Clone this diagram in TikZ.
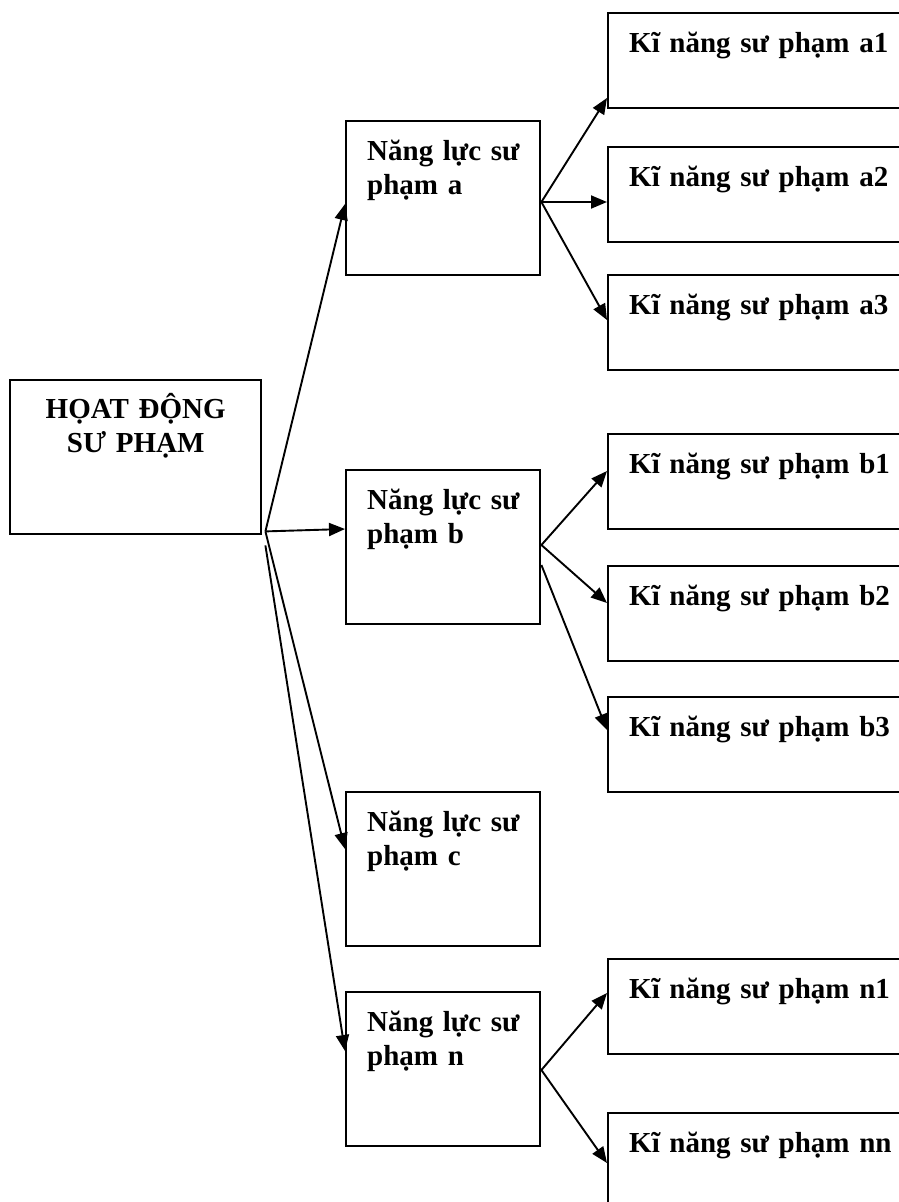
\documentclass[tikz,border=0pt]{standalone}
\usepackage{fontspec}
\setmainfont{Liberation Serif}[WordSpace=0.82]
\usetikzlibrary{arrows.meta,calc}
\begin{document}
\begin{tikzpicture}[x=1pt,y=-1pt,
  boxbase/.style={draw, line width=2.4pt, anchor=north west, inner sep=0pt,
    text height=39pt, font=\bfseries\fontsize{29}{34}\selectfont},
  leftbox/.style={boxbase, align=left, execute at begin node={\leftskip=21pt\relax}},
  rootbox/.style={boxbase, inner xsep=10pt, align=center, text width=231pt,
    text height=38pt, text depth=116pt},
  midbox/.style={leftbox, text width=194pt, text depth=115pt},
  skillbox/.style={leftbox, text width=320pt, text depth=56pt},
  link/.style={line width=1.9pt, -{Triangle[length=16pt,width=13pt]}}
]
\useasboundingbox (0,0) rectangle (899,1202);
\clip (0,0) rectangle (899,1202);

% root activity
\node[rootbox] (root) at (9,379) {HỌAT ĐỘNG\\SƯ PHẠM};

% competences
\node[midbox] (na) at (345,120) {Năng lực sư\\phạm a};
\node[midbox] (nb) at (345,469) {Năng lực sư\\phạm b};
\node[midbox] (nc) at (345,791) {Năng lực sư\\phạm c};
\node[midbox] (nn) at (345,991) {Năng lực sư\\phạm n};

% skills
\node[skillbox] (a1) at (607,12)   {Kĩ năng sư phạm a1};
\node[skillbox] (a2) at (607,146)  {Kĩ năng sư phạm a2};
\node[skillbox] (a3) at (607,274)  {Kĩ năng sư phạm a3};
\node[skillbox] (b1) at (607,433)  {Kĩ năng sư phạm b1};
\node[skillbox] (b2) at (607,565)  {Kĩ năng sư phạm b2};
\node[skillbox] (b3) at (607,696)  {Kĩ năng sư phạm b3};
\node[skillbox] (n1) at (607,958)  {Kĩ năng sư phạm n1};
\node[skillbox] (n2) at (607,1112) {Kĩ năng sư phạm nn};

% fan-out points
\coordinate (hub)  at ($(root.south east)+(3,-4)$);
\coordinate (hub2) at ($(root.south east)+(3,10)$);
\coordinate (aout) at ($(na.north east)+(0,82)$);
\coordinate (bout) at ($(nb.north east)+(0,76)$);
\coordinate (bout2) at ($(nb.north east)+(0,96)$);
\coordinate (nout) at ($(nn.north east)+(0,79)$);

% activity -> competences
\draw[link] (hub)  -- ($(na.north west)+(0,84)$);
\draw[link] (hub)  -- ($(nb.north west)+(0,60)$);
\draw[link] (hub)  -- ($(nc.north west)+(0,58)$);
\draw[link] (hub2) -- ($(nn.north west)+(0,60)$);

% competences -> skills
\draw[link] (aout) -- ($(a1.north west)+(0,86)$);
\draw[link] (aout) -- ($(a2.north west)+(0,56)$);
\draw[link] (aout) -- ($(a3.north west)+(0,46)$);
\draw[link] (bout) -- ($(b1.north west)+(0,38)$);
\draw[link] (bout) -- ($(b2.north west)+(0,38)$);
\draw[link] (bout2) -- ($(b3.north west)+(0,34)$);
\draw[link] (nout) -- ($(n1.north west)+(0,35)$);
\draw[link] (nout) -- ($(n2.north west)+(0,51)$);
\end{tikzpicture}
\end{document}
